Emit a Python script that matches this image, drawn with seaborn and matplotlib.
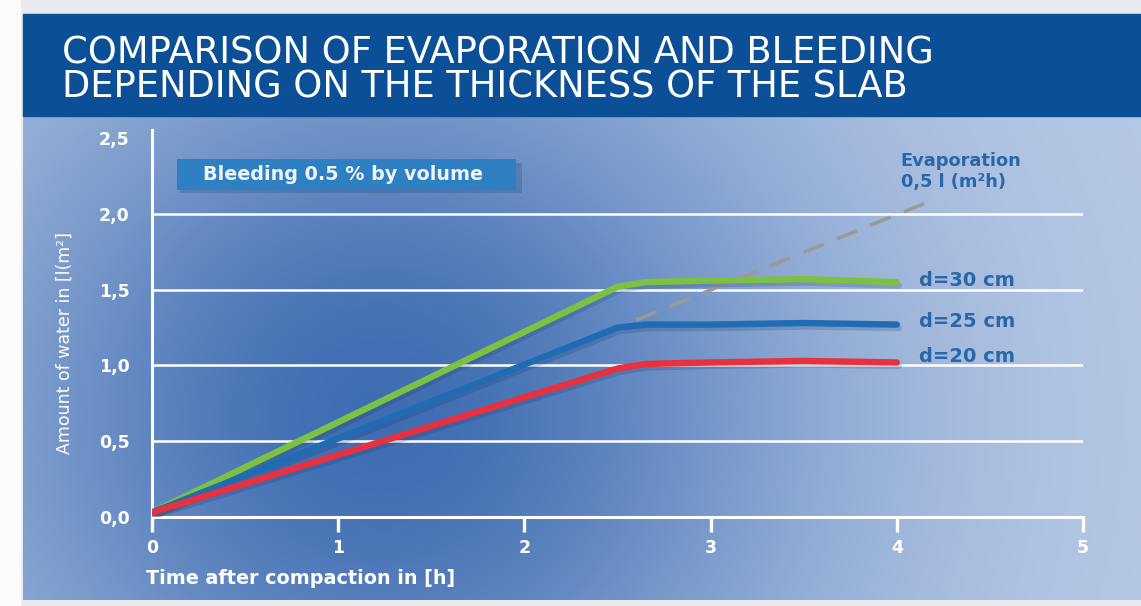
import numpy as np
import pandas as pd
import matplotlib
matplotlib.use("Agg")
import matplotlib.pyplot as plt
import matplotlib.patheffects as pe
from matplotlib.patches import Rectangle
import seaborn as sns

# --- data -------------------------------------------------------------
hours = [0.0, 2.5, 2.65, 3.0, 3.5, 4.0]
water_d30 = [0.03, 1.52, 1.55, 1.56, 1.57, 1.55]
water_d25 = [0.03, 1.25, 1.27, 1.27, 1.28, 1.27]
water_d20 = [0.03, 0.98, 1.01, 1.02, 1.03, 1.02]
series_labels = ["d=30 cm", "d=25 cm", "d=20 cm"]

evap_hours = [2.6, 4.15]
evap_water = [1.30, 2.07]

x_ticks = [0, 1, 2, 3, 4, 5]
y_ticks = [0.0, 0.5, 1.0, 1.5, 2.0, 2.5]
y_tick_labels = ["0,0", "0,5", "1,0", "1,5", "2,0", "2,5"]

title = "COMPARISON OF EVAPORATION AND BLEEDING\nDEPENDING ON THE THICKNESS OF THE SLAB"
note = "Bleeding 0.5 % by volume"
evap_label = "Evaporation\n0,5 l (m²h)"
x_label = "Time after compaction in [h]"
y_label = "Amount of water in [l(m²]"

# --- styling ------------------------------------------------------------
sns.set_theme(style="white")
plt.rcParams["font.family"] = ["DejaVu Sans"]
palette = {"d=30 cm": "#7cc242", "d=25 cm": "#1f6cb4", "d=20 cm": "#e8303e"}
label_blue = "#2a67a8"

W, H = 1141, 606
fig = plt.figure(figsize=(W / 100, H / 100), dpi=100)
fig.patch.set_facecolor("#e9eaee")

# panel background with soft blue gradient
bg = fig.add_axes([23 / W, 6 / H, 1118 / W, 484 / H])
u = np.linspace(0, 1, 400)[None, :]
v = np.linspace(0, 1, 200)[:, None]
light = np.array([0.72, 0.79, 0.90])
dark = np.array([0.25, 0.43, 0.70])
w = np.exp(-((u - 0.32) / 0.38) ** 2 - ((v - 0.62) / 0.85) ** 2)
img = light[None, None, :] - w[:, :, None] * (light - dark)[None, None, :]
bg.imshow(img, aspect="auto", extent=[0, 1, 0, 1], interpolation="bilinear")
bg.set_axis_off()

# title band
fig.patches.append(Rectangle((23 / W, 490 / H), 1118 / W, 102 / H,
                             transform=fig.transFigure, color="#0b5097", zorder=1))
fig.patches.append(Rectangle((0, 0), 20 / W, 1, transform=fig.transFigure,
                             color="#fbfbfb", zorder=1))
fig.text(62 / W, 1 - 70 / H, title, color="white", fontsize=26.5, linespacing=0.89,
         va="center", ha="left", family=["DejaVu Sans"], zorder=3)

# --- chart --------------------------------------------------------------
ax = fig.add_axes([152 / W, 89 / H, 931 / W, 387 / H])
ax.set_facecolor("none")

df = pd.DataFrame({
    "hours": hours * 3,
    "water": water_d30 + water_d25 + water_d20,
    "series": [s for s in series_labels for _ in hours],
})
evap = pd.DataFrame({"hours": evap_hours, "water": evap_water})

ax.hlines(y_ticks[1:-1], 0, 5, color="white", lw=1.8, zorder=1)

sns.lineplot(data=evap, x="hours", y="water", ax=ax, color="#9a9a9a", lw=2.6,
             zorder=2)
ax.lines[-1].set_dashes([6, 4])

sns.lineplot(data=df, x="hours", y="water", hue="series", palette=palette,
             hue_order=series_labels, ax=ax, lw=4.6, legend=False, zorder=3)
for ln in ax.lines[1:]:
    ln.set_solid_capstyle("round")
    ln.set_path_effects([pe.SimpleLineShadow(offset=(1.5, -2.5), shadow_color="#102a55",
                                             alpha=0.18), pe.Normal()])

ax.set_xlim(0, 5)
ax.set_ylim(0, 2.554)
ax.set_xticks(x_ticks)
ax.set_xticklabels([str(t) for t in x_ticks])
ax.set_yticks(y_ticks)
ax.set_yticklabels(y_tick_labels)
ax.tick_params(axis="x", bottom=True, colors="white", length=11, width=2.4,
               direction="out", pad=5, labelsize=12.5)
ax.tick_params(axis="y", left=False, colors="white", length=0, pad=16, labelsize=12.5)
for lab in ax.get_xticklabels() + ax.get_yticklabels():
    lab.set_fontweight("bold")
    lab.set_color("white")
for side in ("top", "right"):
    ax.spines[side].set_visible(False)
for side in ("left", "bottom"):
    ax.spines[side].set_color("white")
    ax.spines[side].set_linewidth(2.2)
ax.set_xlabel("")
ax.set_ylabel("")

# series labels beside the line ends
for name, y in zip(series_labels, [1.56, 1.29, 1.06]):
    ax.text(4.12, y, name, color=label_blue, fontsize=14, fontweight="bold",
            va="center", ha="left")
ax.text(4.02, 2.28, evap_label, color=label_blue, fontsize=12.8, fontweight="bold",
        va="center", ha="left", linespacing=1.2)

# bleeding note box
ax.add_patch(Rectangle((0.148, 2.135), 1.84, 0.2, facecolor="#17305a", alpha=0.2,
                       lw=0, zorder=4))
ax.add_patch(Rectangle((0.134, 2.16), 1.82, 0.2, facecolor="#2f7fc3", lw=0, zorder=5))
ax.text(0.275, 2.26, note, color="#eef4fb", fontsize=13.8, fontweight="bold",
        va="center", ha="left", zorder=6)

fig.text(65 / W, 1 - 343 / H, y_label, color="white", fontsize=12.5, rotation=90,
         va="center", ha="center")
fig.text(146 / W, 1 - 578 / H, x_label, color="white", fontsize=13.8,
         fontweight="bold", va="center", ha="left")

fig.savefig("out.png", dpi=100, facecolor=fig.get_facecolor())
